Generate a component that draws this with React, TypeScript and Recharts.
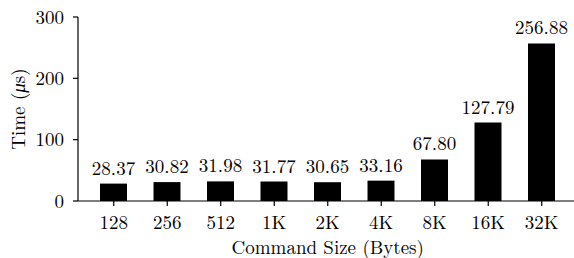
import React from 'react'
import { BarChart, Bar, XAxis, YAxis, LabelList, Label } from 'recharts'

const sizes = ['128', '256', '512', '1K', '2K', '4K', '8K', '16K', '32K']
const times = [28.37, 30.82, 31.98, 31.77, 30.65, 33.16, 67.8, 127.79, 256.88]
const yTicks = [0, 100, 200, 300]

const data = sizes.map((s, i) => ({ size: s, time: times[i] }))

const FONT = '"Latin Modern Roman", "Liberation Serif", serif'
const textStyle = { fontFamily: FONT, fontSize: 19, fill: '#000' }
const axisLine = { stroke: '#000', strokeWidth: 1.2 }

function YTitle({ viewBox }: any) {
  const cx = viewBox.x + 17
  const cy = viewBox.y + viewBox.height / 2
  return (
    <text x={cx} y={cy} transform={`rotate(-90 ${cx} ${cy})`} textAnchor="middle"
      dominantBaseline="central" style={textStyle}>
      Time (<tspan fontStyle="italic">μ</tspan>s)
    </text>
  )
}

export default function App() {
  return (
    <div style={{ position: 'absolute', left: 0, top: 0, width: 574, height: 258, background: '#fff' }}>
      <BarChart width={574} height={258} data={data}
        margin={{ top: 17, right: -3.5, bottom: 0, left: 0 }}>
        <XAxis dataKey="size" height={57} padding={{ left: 9, right: 9 }}
          axisLine={axisLine} tickLine={axisLine}
          tickSize={5} tickMargin={10} tick={textStyle} interval={0}>
          <Label value="Command Size (Bytes)" position="insideBottom" offset={4} style={textStyle} />
        </XAxis>
        {/* top spine */}
        <XAxis xAxisId="top" orientation="top" dataKey="size" height={0}
          axisLine={axisLine} tick={false} tickLine={false} />
        <YAxis width={78} domain={[0, 300]} ticks={yTicks} allowDataOverflow
          axisLine={axisLine} tickLine={axisLine}
          tickSize={5} tickMargin={9} tick={textStyle}>
          <Label content={YTitle} />
        </YAxis>
        <Bar dataKey="time" fill="#000" barSize={27} isAnimationActive={false}>
          <LabelList dataKey="time" position="top" offset={9}
            formatter={(v: any) => Number(v).toFixed(2)} style={textStyle} />
        </Bar>
      </BarChart>
    </div>
  )
}
